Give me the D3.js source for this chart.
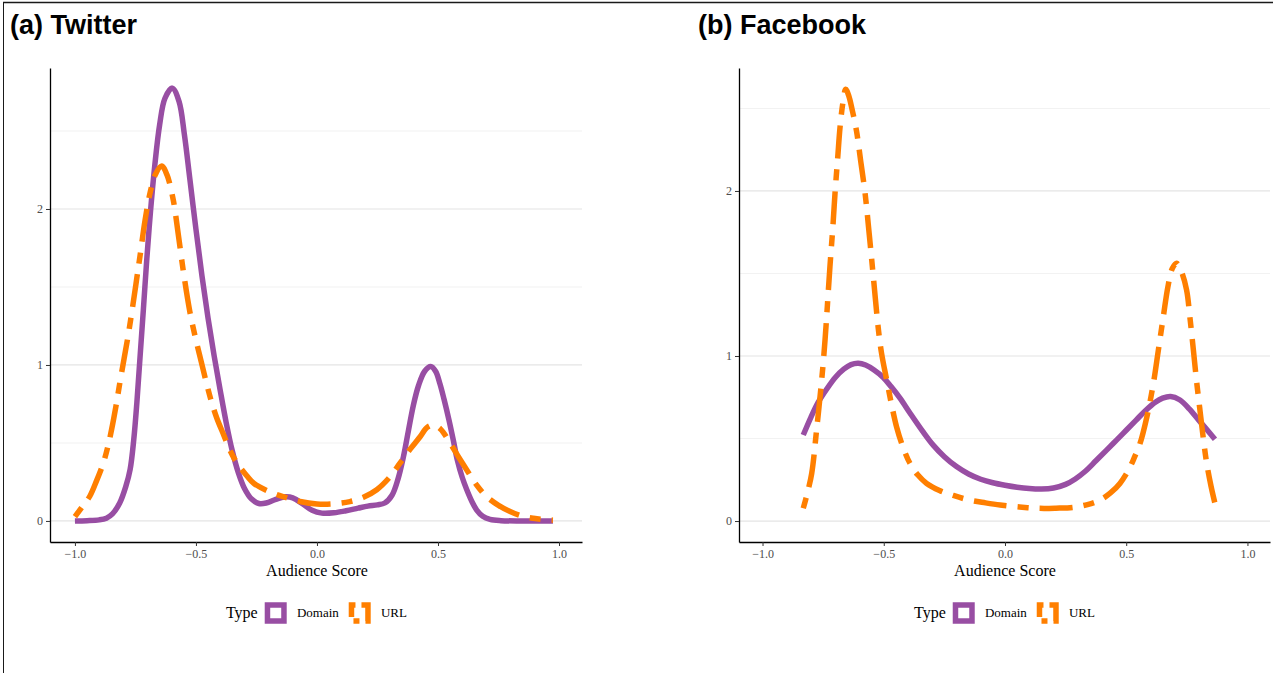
<!DOCTYPE html>
<html>
<head>
<meta charset="utf-8">
<script src="https://cdn.jsdelivr.net/npm/d3@7"></script>
<style>
  html, body { margin: 0; padding: 0; background: #fff; }
  svg { display: block; }
</style>
</head>
<body>
<svg id="chart" width="1273" height="673"></svg>
<script>
// Density of audience score, [score, density] pairs
const twitterDomain = [
  [-1.0,0.0],[-0.95,0.002],[-0.9,0.007],[-0.87,0.018],[-0.845,0.045],[-0.815,0.115],[-0.79,0.22],
  [-0.772,0.33],[-0.757,0.52],[-0.744,0.76],[-0.731,1.05],[-0.717,1.36],[-0.703,1.68],[-0.688,1.98],
  [-0.67,2.28],[-0.65,2.54],[-0.628,2.71],[-0.598,2.775],[-0.57,2.69],[-0.548,2.48],[-0.525,2.19],
  [-0.5,1.87],[-0.475,1.57],[-0.45,1.3],[-0.425,1.06],[-0.4,0.84],[-0.375,0.63],[-0.35,0.45],
  [-0.325,0.31],[-0.3,0.21],[-0.27,0.14],[-0.24,0.112],[-0.21,0.115],[-0.17,0.138],[-0.13,0.155],
  [-0.1,0.148],[-0.06,0.11],[-0.02,0.068],[0.02,0.05],[0.07,0.052],[0.12,0.065],[0.17,0.082],
  [0.21,0.095],[0.25,0.103],[0.28,0.115],[0.31,0.165],[0.335,0.27],[0.357,0.41],[0.378,0.58],
  [0.398,0.74],[0.42,0.87],[0.445,0.96],[0.47,0.99],[0.49,0.96],[0.508,0.88],[0.525,0.78],
  [0.545,0.65],[0.563,0.52],[0.58,0.39],[0.6,0.28],[0.619,0.2],[0.64,0.125],[0.66,0.07],
  [0.685,0.03],[0.715,0.01],[0.76,0.002],[0.85,0.0],[0.975,0.0]
];
const twitterURL = [
  [-1.0,0.028],[-0.97,0.09],[-0.938,0.16],[-0.91,0.26],[-0.883,0.37],[-0.865,0.47],[-0.848,0.59],
  [-0.83,0.74],[-0.814,0.89],[-0.797,1.04],[-0.78,1.19],[-0.76,1.39],[-0.745,1.55],[-0.731,1.7],
  [-0.71,1.93],[-0.69,2.1],[-0.668,2.22],[-0.642,2.276],[-0.62,2.22],[-0.594,2.06],[-0.575,1.86],
  [-0.552,1.6],[-0.525,1.34],[-0.5,1.16],[-0.478,1.02],[-0.456,0.88],[-0.435,0.76],[-0.414,0.66],
  [-0.385,0.55],[-0.36,0.455],[-0.33,0.37],[-0.29,0.29],[-0.26,0.24],[-0.2,0.19],[-0.14,0.156],
  [-0.07,0.125],[0.0,0.109],[0.07,0.11],[0.136,0.124],[0.19,0.15],[0.247,0.2],[0.3,0.28],
  [0.343,0.37],[0.385,0.46],[0.426,0.54],[0.455,0.6],[0.481,0.615],[0.51,0.59],[0.55,0.5],
  [0.585,0.41],[0.619,0.327],[0.66,0.23],[0.701,0.156],[0.75,0.1],[0.798,0.06],[0.85,0.03],
  [0.894,0.017],[0.935,0.009],[0.975,0.005]
];
const facebookDomain = [
  [-0.832,0.521],[-0.8,0.63],[-0.77,0.72],[-0.735,0.8],[-0.7,0.87],[-0.665,0.92],[-0.635,0.948],
  [-0.605,0.956],[-0.575,0.945],[-0.54,0.915],[-0.502,0.87],[-0.47,0.815],[-0.433,0.745],
  [-0.392,0.655],[-0.34,0.545],[-0.296,0.46],[-0.25,0.39],[-0.2,0.33],[-0.15,0.285],[-0.1,0.253],
  [-0.05,0.232],[0.0,0.217],[0.05,0.205],[0.1,0.197],[0.15,0.194],[0.2,0.2],[0.25,0.222],
  [0.29,0.255],[0.33,0.3],[0.375,0.365],[0.419,0.43],[0.46,0.49],[0.5,0.55],[0.54,0.61],
  [0.58,0.67],[0.62,0.72],[0.65,0.745],[0.683,0.755],[0.72,0.735],[0.76,0.68],[0.8,0.61],
  [0.835,0.55],[0.866,0.495]
];
const facebookURL = [
  [-0.832,0.077],[-0.815,0.17],[-0.797,0.29],[-0.777,0.552],[-0.756,0.855],[-0.742,1.1],
  [-0.722,1.54],[-0.71,1.78],[-0.701,1.986],[-0.69,2.2],[-0.68,2.39],[-0.668,2.54],[-0.657,2.616],
  [-0.645,2.58],[-0.63,2.49],[-0.612,2.36],[-0.595,2.18],[-0.577,1.986],[-0.56,1.74],[-0.543,1.481],
  [-0.522,1.16],[-0.509,1.016],[-0.488,0.855],[-0.467,0.7],[-0.447,0.57],[-0.42,0.445],
  [-0.392,0.35],[-0.36,0.28],[-0.323,0.228],[-0.27,0.185],[-0.213,0.155],[-0.15,0.128],
  [-0.08,0.11],[-0.02,0.097],[0.06,0.085],[0.144,0.077],[0.21,0.078],[0.282,0.083],[0.34,0.1],
  [0.392,0.127],[0.435,0.17],[0.474,0.228],[0.51,0.31],[0.535,0.39],[0.557,0.47],[0.585,0.63],
  [0.612,0.834],[0.632,1.03],[0.653,1.238],[0.672,1.42],[0.69,1.53],[0.708,1.562],[0.728,1.51],
  [0.749,1.4],[0.763,1.23],[0.777,1.036],[0.79,0.85],[0.804,0.673],[0.818,0.5],[0.832,0.35],
  [0.85,0.21],[0.866,0.107]
];

const panelTitles = ["(a) Twitter", "(b) Facebook"];
const seriesNames = ["Domain", "URL"];
const xTicks = [-1.0, -0.5, 0.0, 0.5, 1.0];
const yTicks = [0, 1, 2];
const yMinorTicks = [0.5, 1.5, 2.5];
const xTitle = "Audience Score";
const legendTitle = "Type";

const colors = { Domain: "#984EA3", URL: "#FF7F00" };
const dashes = { Domain: null, URL: "11,11,33,11" };

const svg = d3.select("#chart");

// outer frame
svg.append("line").attr("x1", 3).attr("x2", 1273).attr("y1", 2.5).attr("y2", 2.5)
  .attr("stroke", "#1a1a1a").attr("stroke-width", 1.6);
svg.append("line").attr("x1", 3.5).attr("x2", 3.5).attr("y1", 2).attr("y2", 673)
  .attr("stroke", "#1a1a1a").attr("stroke-width", 1);

const panels = [
  { title: panelTitles[0], titleX: 10, left: 50, right: 582, xDom: [-1.103, 1.095], yDom: [-0.135, 2.904],
    series: { Domain: twitterDomain, URL: twitterURL } },
  { title: panelTitles[1], titleX: 698, left: 739, right: 1270, xDom: [-1.097, 1.093], yDom: [-0.127, 2.745],
    series: { Domain: facebookDomain, URL: facebookURL } }
];
const plotTop = 68, plotBottom = 542;

panels.forEach(p => {
  const g = svg.append("g");
  const x = d3.scaleLinear().domain(p.xDom).range([p.left, p.right]);
  const y = d3.scaleLinear().domain(p.yDom).range([plotBottom, plotTop]);

  // title
  g.append("text").attr("x", p.titleX).attr("y", 34)
    .attr("font-family", "'Liberation Sans', Arial, sans-serif").attr("font-weight", "bold")
    .attr("font-size", 27).attr("fill", "#000").text(p.title);

  // horizontal grid
  g.selectAll(".minor").data(yMinorTicks).join("line")
    .attr("x1", p.left).attr("x2", p.right)
    .attr("y1", d => y(d)).attr("y2", d => y(d))
    .attr("stroke", "#F2F2F2").attr("stroke-width", 1.1);
  g.selectAll(".major").data(yTicks).join("line")
    .attr("x1", p.left).attr("x2", p.right)
    .attr("y1", d => y(d)).attr("y2", d => y(d))
    .attr("stroke", "#E4E4E4").attr("stroke-width", 1.2);

  // density curves
  const line = d3.line().x(d => x(d[0])).y(d => y(d[1])).curve(d3.curveCatmullRom.alpha(0.5));
  seriesNames.forEach(name => {
    g.append("path").datum(p.series[name]).attr("d", line)
      .attr("fill", "none").attr("stroke", colors[name]).attr("stroke-width", 5.5)
      .attr("stroke-linecap", "butt").attr("stroke-linejoin", "round")
      .attr("stroke-dasharray", dashes[name]);
  });

  // axes
  const xAxis = g.append("g").attr("transform", `translate(0,${plotBottom})`)
    .call(d3.axisBottom(x).tickValues(xTicks).tickSize(4).tickSizeOuter(0).tickPadding(3)
      .tickFormat(d3.format(".1f")));
  const yAxis = g.append("g").attr("transform", `translate(${p.left},0)`)
    .call(d3.axisLeft(y).tickValues(yTicks).tickSize(4).tickSizeOuter(0).tickPadding(3)
      .tickFormat(d3.format("d")));
  [xAxis, yAxis].forEach(a => {
    a.select(".domain").attr("stroke", "#000").attr("stroke-width", 1.3);
    a.selectAll(".tick line").attr("stroke", "#333").attr("stroke-width", 1);
    a.selectAll(".tick text").attr("fill", "#4D4D4D")
      .attr("font-family", "'Liberation Serif', 'Times New Roman', serif").attr("font-size", 12);
  });
  xAxis.selectAll(".tick text").text(d => d3.format(".1f")(d).replace("-", "\u2212"));

  // axis title
  const cx = x(0);
  g.append("text").attr("x", cx).attr("y", 576).attr("text-anchor", "middle")
    .attr("font-family", "'Liberation Serif', 'Times New Roman', serif").attr("font-size", 16)
    .attr("fill", "#000").text(xTitle);

  // legend
  const lg = g.append("g").attr("transform", `translate(${cx - 91},0)`);
  lg.append("text").attr("x", 0).attr("y", 618)
    .attr("font-family", "'Liberation Serif', 'Times New Roman', serif").attr("font-size", 16)
    .attr("fill", "#000").text(legendTitle);
  const keyX = { Domain: 41.5, URL: 125.5 };
  seriesNames.forEach(name => {
    lg.append("rect").attr("x", keyX[name]).attr("y", 605).attr("width", 16.5).attr("height", 16)
      .attr("fill", "#fff").attr("stroke", colors[name]).attr("stroke-width", 5.5)
      .attr("stroke-dasharray", name === "URL" ? "6,6,25,6" : null)
      .attr("stroke-dashoffset", name === "URL" ? 2 : 0);
    lg.append("text").attr("x", keyX[name] + 29.5).attr("y", 617)
      .attr("font-family", "'Liberation Serif', 'Times New Roman', serif").attr("font-size", 13)
      .attr("fill", "#000").text(name);
  });
});
</script>
</body>
</html>
